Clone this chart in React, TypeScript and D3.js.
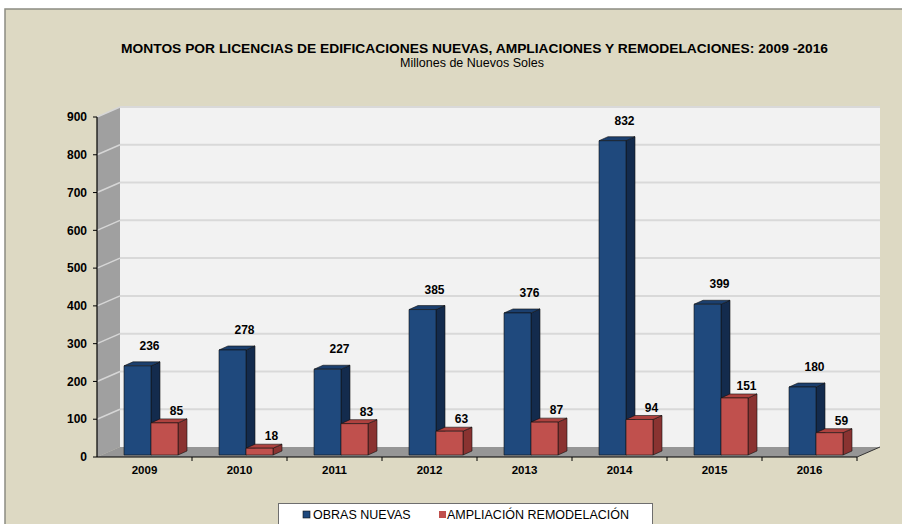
import * as d3 from "d3";

const years = ["2009", "2010", "2011", "2012", "2013", "2014", "2015", "2016"];
const obrasNuevas = [236, 278, 227, 385, 376, 832, 399, 180];
const ampliacion = [85, 18, 83, 63, 87, 94, 151, 59];
const yTicks = [0, 100, 200, 300, 400, 500, 600, 700, 800, 900];

const W = 902, H = 524;
const left = 97, right = 857, bottom = 457, top = 117;
const depthX = 23, depthY = -10;
const barW = 27, barDX = 9, barDY = -4;

const blue = { front: "#1F497D", top: "#1B3F6E", side: "#132B4D" };
const red = { front: "#C0504D", top: "#AE423F", side: "#8A3331" };

const App = () => {
  const x = d3.scaleBand().domain(years).range([left, right]);
  const y = d3.scaleLinear().domain([0, 900]).range([bottom, top]);

  const bar = (x0: number, v: number, c: typeof blue, key: string) => {
    const b = bottom - 2;
    const t = y(v) - 2;
    const x1 = x0 + barW;
    return (
      <g key={key} stroke="#111" strokeWidth={0.6} strokeLinejoin="round">
        <polygon points={`${x1},${t} ${x1 + barDX},${t + barDY} ${x1 + barDX},${b + barDY} ${x1},${b}`} fill={c.side} />
        <polygon points={`${x0},${t} ${x0 + barDX},${t + barDY} ${x1 + barDX},${t + barDY} ${x1},${t}`} fill={c.top} />
        <rect x={x0} y={t} width={barW} height={b - t} fill={c.front} />
      </g>
    );
  };

  return (
    <svg width={W} height={H} style={{ position: "absolute", left: 0, top: 0, whiteSpace: "pre" }} fontFamily="Liberation Sans, Arial, sans-serif">
      <rect width={W} height={H} fill="#fff" />
      <rect x={5} y={9} width={W} height={H} fill="#DDD9C3" stroke="#8C8C82" strokeWidth={1.5} />

      <text x={121} y={53} textLength={707} lengthAdjust="spacingAndGlyphs" fontWeight="bold" fontSize={12} fill="#000">
        MONTOS POR LICENCIAS DE EDIFICACIONES  NUEVAS, AMPLIACIONES  Y REMODELACIONES:  2009 -2016
      </text>
      <text x={472} y={67} textAnchor="middle" fontSize={12.5} fill="#000">
        Millones de Nuevos  Soles
      </text>

      {/* walls */}
      <polygon points={`${left + depthX},${y(900) + depthY} ${right + depthX},${y(900) + depthY} ${right + depthX},${bottom + depthY} ${left + depthX},${bottom + depthY}`} fill="#F2F2F2" />
      <polygon points={`${left},${y(900)} ${left + depthX},${y(900) + depthY} ${left + depthX},${bottom + depthY} ${left},${bottom}`} fill="#A0A0A0" />
      <polygon points={`${left},${bottom} ${left + depthX},${bottom + depthY} ${right + depthX},${bottom + depthY} ${right},${bottom}`} fill="#969696" />
      {yTicks.filter((t) => t > 0).map((t) => (
        <g key={t}>
          <line x1={left + depthX} x2={right + depthX} y1={y(t) + depthY} y2={y(t) + depthY} stroke="#D9D9D9" strokeWidth={2} />
          <line x1={left} x2={left + depthX} y1={y(t)} y2={y(t) + depthY} stroke="#D6D6D6" strokeWidth={1.5} />
        </g>
      ))}
      <line x1={right} y1={bottom} x2={right + depthX} y2={bottom + depthY} stroke="#333" strokeWidth={1} />

      {/* axes */}
      <line x1={left} x2={left} y1={top} y2={bottom} stroke="#000" strokeWidth={1.2} />
      <line x1={left} x2={right} y1={bottom} y2={bottom} stroke="#000" strokeWidth={1.2} />
      {yTicks.map((t) => (
        <g key={t}>
          <line x1={left - 4} x2={left} y1={y(t)} y2={y(t)} stroke="#000" />
          <text x={87} y={y(t)} dy="0.35em" textAnchor="end" fontWeight="bold" fontSize={12}>{t}</text>
        </g>
      ))}
      {years.map((yr) => (
        <line key={yr} x1={(x(yr) as number) + x.bandwidth()} x2={(x(yr) as number) + x.bandwidth()} y1={bottom} y2={bottom + 4} stroke="#000" />
      ))}
      {years.map((yr) => (
        <text key={yr} x={(x(yr) as number) + x.bandwidth() / 2} y={470} dy="0.35em" textAnchor="middle" fontWeight="bold" fontSize={11.5}>{yr}</text>
      ))}

      {/* bars */}
      {years.map((yr, i) => {
        const x0 = (x(yr) as number) + 27;
        return (
          <g key={yr}>
            {bar(x0, obrasNuevas[i], blue, "b")}
            {bar(x0 + barW, ampliacion[i], red, "r")}
            <text x={x0 + barW / 2 + 12} y={y(obrasNuevas[i]) - 22} dy="0.35em" textAnchor="middle" fontWeight="bold" fontSize={12}>{obrasNuevas[i]}</text>
            <text x={x0 + barW * 1.5 + 12} y={y(ampliacion[i]) - 14} dy="0.35em" textAnchor="middle" fontWeight="bold" fontSize={12}>{ampliacion[i]}</text>
          </g>
        );
      })}

      {/* legend */}
      <rect x={278.5} y={503.5} width={374} height={30} fill="#fff" stroke="#6E6E6E" />
      <rect x={303} y={511} width={7} height={7} fill={blue.front} stroke="#111" strokeWidth={0.6} />
      <text x={313} y={514.5} dy="0.35em" fontSize={12.5}>OBRAS  NUEVAS</text>
      <rect x={439} y={511} width={7} height={7} fill={red.front} />
      <text x={447} y={514.5} dy="0.35em" fontSize={12.5}>AMPLIACIÓN REMODELACIÓN</text>
    </svg>
  );
};

export default App;
